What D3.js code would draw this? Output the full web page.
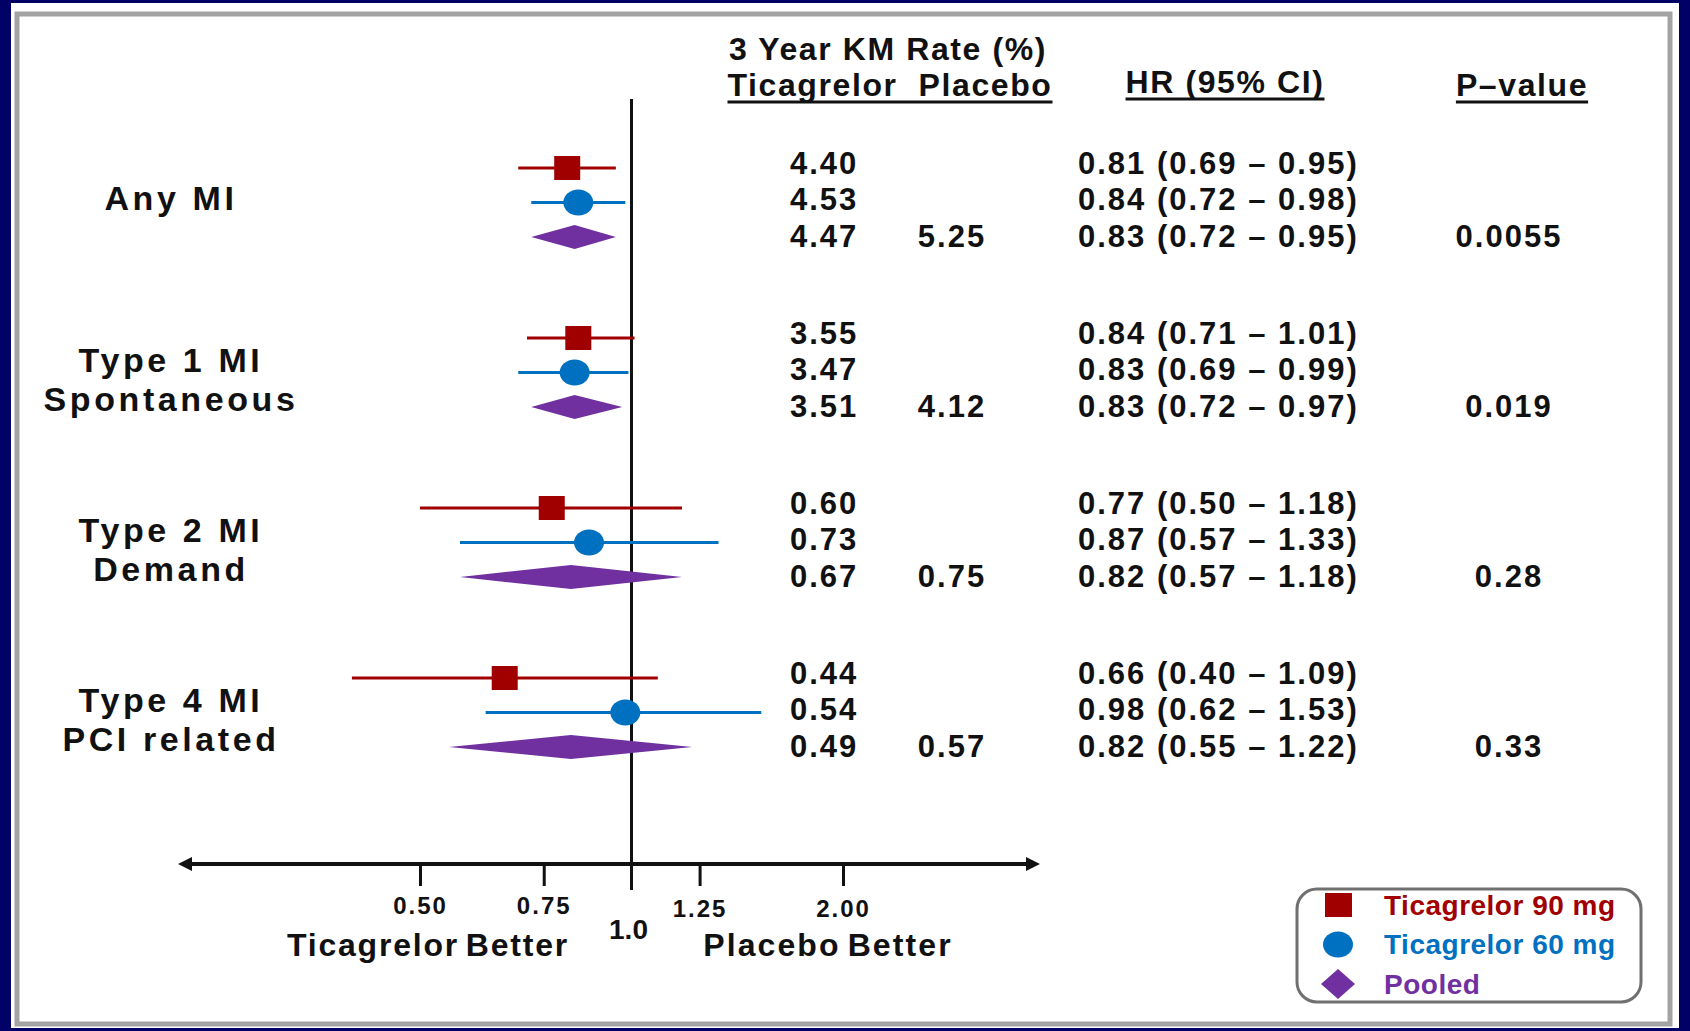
<!DOCTYPE html>
<html lang="en">
  <head>
    <meta charset="UTF-8" />
    <title>MI subtypes forest plot</title>
    <script src="https://d3js.org/d3.v7.min.js"></script>
    <style>
      body {
        margin: 0;
        padding: 0;
        background: #000066;
        font-family: "Liberation Sans", Arial, sans-serif;
      }
      svg text {
        font-weight: bold;
        fill: #111;
        white-space: pre;
      }
    </style>
  </head>
  <body>
    <div id="chart"></div>
    <script>
      const groupLabels = [
        ["Any MI"],
        ["Type 1 MI", "Spontaneous"],
        ["Type 2 MI", "Demand"],
        ["Type 4 MI", "PCI related"],
      ];
      const arms = ["Ticagrelor 90 mg", "Ticagrelor 60 mg", "Pooled"];
      const armColors = ["#a00000", "#0070c0", "#7030a0"];

      const kmTicagrelor = [
        [4.4, 4.53, 4.47],
        [3.55, 3.47, 3.51],
        [0.6, 0.73, 0.67],
        [0.44, 0.54, 0.49],
      ];
      const kmPlacebo = [5.25, 4.12, 0.75, 0.57];
      const hr = [
        [0.81, 0.84, 0.83],
        [0.84, 0.83, 0.83],
        [0.77, 0.87, 0.82],
        [0.66, 0.98, 0.82],
      ];
      const ciLow = [
        [0.69, 0.72, 0.72],
        [0.71, 0.69, 0.72],
        [0.5, 0.57, 0.57],
        [0.4, 0.62, 0.55],
      ];
      const ciHigh = [
        [0.95, 0.98, 0.95],
        [1.01, 0.99, 0.97],
        [1.18, 1.33, 1.18],
        [1.09, 1.53, 1.22],
      ];
      const pValues = ["0.0055", "0.019", "0.28", "0.33"];
      const xTicks = [0.5, 0.75, 1.25, 2];
      const xTickLabels = ["0.50", "0.75", "1.25", "2.00"];

      const width = 1690;
      const height = 1031;

      const svg = d3
        .select("#chart")
        .append("svg")
        .attr("width", width)
        .attr("height", height);

      // slide background + frame
      svg
        .append("rect")
        .attr("x", 11)
        .attr("y", 3)
        .attr("width", 1668)
        .attr("height", 1025)
        .attr("fill", "#fff");
      svg
        .append("rect")
        .attr("x", 17)
        .attr("y", 14)
        .attr("width", 1653)
        .attr("height", 1010)
        .attr("fill", "none")
        .attr("stroke", "#a3a3a3")
        .attr("stroke-width", 5);

      // scales
      const x = d3.scaleLog().domain([0.5, 2]).range([420, 843]);
      const axisLeft = 178;
      const axisRight = 1040;
      const axisY = 864;

      const rowStep = 36.5;
      const groupGap = 170 / rowStep; // rows between group starts
      const rowPos = (g, r) => g * groupGap + r;
      const y = d3
        .scaleLinear()
        .domain([0, 1])
        .range([163, 163 + rowStep]);

      // reference line at 1.0
      svg
        .append("line")
        .attr("x1", x(1))
        .attr("x2", x(1))
        .attr("y1", 99)
        .attr("y2", 890)
        .attr("stroke", "#111")
        .attr("stroke-width", 3);

      // x axis
      const xAxisScale = x
        .copy()
        .domain([x.invert(axisLeft), x.invert(axisRight)])
        .range([axisLeft, axisRight]);

      const axisG = svg
        .append("g")
        .attr("transform", `translate(0, ${axisY})`)
        .call(
          d3
            .axisBottom(xAxisScale)
            .tickValues(xTicks)
            .tickSize(22)
            .tickSizeOuter(0)
            .tickPadding(11)
            .tickFormat((d, i) => xTickLabels[i])
        );
      axisG
        .select(".domain")
        .attr("stroke", "#111")
        .attr("stroke-width", 4)
        .attr("d", `M${axisLeft + 10},0H${axisRight - 10}`);
      axisG.selectAll(".tick line").attr("stroke", "#111").attr("stroke-width", 3);
      axisG
        .selectAll(".tick text")
        .attr("fill", "#111")
        .attr("dy", (d) => (d > 1 ? "0.83em" : "0.71em"))
        .style("font-size", "24px")
        .style("letter-spacing", "2px")
        .style("font-family", "'Liberation Sans', Arial, sans-serif");

      // arrow heads
      svg
        .append("path")
        .attr(
          "d",
          `M${axisLeft},${axisY} L${axisLeft + 14},${axisY - 7} L${axisLeft + 14},${axisY + 7} Z`
        )
        .attr("fill", "#111");
      svg
        .append("path")
        .attr(
          "d",
          `M${axisRight},${axisY} L${axisRight - 14},${axisY - 7} L${axisRight - 14},${axisY + 7} Z`
        )
        .attr("fill", "#111");

      svg
        .append("text")
        .attr("x", x(1) - 3)
        .attr("y", 939)
        .attr("text-anchor", "middle")
        .style("font-size", "28px")
        .text("1.0");

      svg
        .append("text")
        .attr("x", 428)
        .attr("y", 956)
        .attr("text-anchor", "middle")
        .style("font-size", "32px")
        .style("letter-spacing", "1.8px")
        .style("word-spacing", "-4px")
        .text("Ticagrelor Better");
      svg
        .append("text")
        .attr("x", 828)
        .attr("y", 956)
        .attr("text-anchor", "middle")
        .style("font-size", "32px")
        .style("letter-spacing", "2.1px")
        .style("word-spacing", "-4px")
        .text("Placebo Better");

      // column headers
      function header(txt, cx, baseline, underline) {
        const t = svg
          .append("text")
          .attr("x", cx)
          .attr("y", baseline)
          .attr("text-anchor", "middle")
          .style("font-size", "32px")
          .style("letter-spacing", "1.6px")
          .text(txt);
        if (underline) {
          const b = t.node().getBBox();
          svg
            .append("line")
            .attr("x1", b.x)
            .attr("x2", b.x + b.width)
            .attr("y1", baseline + 6)
            .attr("y2", baseline + 6)
            .attr("stroke", "#111")
            .attr("stroke-width", 3);
        }
      }
      header("3 Year KM Rate (%)", 888, 60, false);
      header("Ticagrelor  Placebo", 890, 96, true);
      header("HR (95% CI)", 1225, 93, true);
      header("P\u2013value", 1522, 96, true);

      // rows
      const rows = [];
      hr.forEach((g, gi) =>
        g.forEach((v, ai) =>
          rows.push({
            g: gi,
            a: ai,
            hr: v,
            lo: ciLow[gi][ai],
            hi: ciHigh[gi][ai],
            km: kmTicagrelor[gi][ai],
          })
        )
      );

      const numStyle = (sel) =>
        sel
          .attr("dominant-baseline", "central")
          .style("font-size", "31px")
          .style("letter-spacing", "2px");

      svg
        .selectAll("text.km")
        .data(rows)
        .enter()
        .append("text")
        .attr("class", "km")
        .attr("x", 790)
        .attr("y", (d) => y(rowPos(d.g, d.a)))
        .call(numStyle)
        .text((d) => d.km.toFixed(2));

      svg
        .selectAll("text.hr")
        .data(rows)
        .enter()
        .append("text")
        .attr("class", "hr")
        .attr("x", 1078)
        .attr("y", (d) => y(rowPos(d.g, d.a)))
        .call(numStyle)
        .text(
          (d) =>
            `${d.hr.toFixed(2)} (${d.lo.toFixed(2)} \u2013 ${d.hi.toFixed(2)})`
        );

      svg
        .selectAll("text.placebo")
        .data(kmPlacebo)
        .enter()
        .append("text")
        .attr("class", "placebo")
        .attr("x", 952)
        .attr("text-anchor", "middle")
        .attr("y", (d, i) => y(rowPos(i, 2)))
        .call(numStyle)
        .text((d) => d.toFixed(2));

      svg
        .selectAll("text.pval")
        .data(pValues)
        .enter()
        .append("text")
        .attr("class", "pval")
        .attr("x", 1509)
        .attr("text-anchor", "middle")
        .attr("y", (d, i) => y(rowPos(i, 2)))
        .call(numStyle)
        .text((d) => d);

      // group labels
      groupLabels.forEach((lines, gi) => {
        const cy = y(rowPos(gi, 1)) + (lines.length > 1 ? 10 : -2);
        lines.forEach((ln, li) => {
          svg
            .append("text")
            .attr("x", 171)
            .attr("y", cy + (li - (lines.length - 1) / 2) * 39.5)
            .attr("text-anchor", "middle")
            .attr("dominant-baseline", "central")
            .style("font-size", "34px")
            .style("letter-spacing", "3.6px")
            .text(ln);
        });
      });

      // markers: slightly tighter spacing than the text rows
      const markStep = 34.5;
      const markY = (d) => y(rowPos(d.g, 1)) + 3 + (d.a - 1) * markStep;
      const marks = svg.append("g");

      marks
        .selectAll("line.ci")
        .data(rows.filter((d) => d.a < 2))
        .enter()
        .append("line")
        .attr("class", "ci")
        .attr("x1", (d) => x(d.lo))
        .attr("x2", (d) => x(d.hi))
        .attr("y1", markY)
        .attr("y2", markY)
        .attr("stroke", (d) => armColors[d.a])
        .attr("stroke-width", 3);

      marks
        .selectAll("rect.sq")
        .data(rows.filter((d) => d.a === 0))
        .enter()
        .append("rect")
        .attr("class", "sq")
        .attr("x", (d) => x(d.hr) - 13)
        .attr("y", (d) => markY(d) - 12)
        .attr("width", 26)
        .attr("height", 24)
        .attr("fill", armColors[0]);

      marks
        .selectAll("ellipse.dot")
        .data(rows.filter((d) => d.a === 1))
        .enter()
        .append("ellipse")
        .attr("class", "dot")
        .attr("cx", (d) => x(d.hr))
        .attr("cy", markY)
        .attr("rx", 15)
        .attr("ry", 13)
        .attr("fill", armColors[1]);

      marks
        .selectAll("path.dia")
        .data(rows.filter((d) => d.a === 2))
        .enter()
        .append("path")
        .attr("class", "dia")
        .attr("d", (d) => {
          const cy = markY(d);
          return `M${x(d.lo)},${cy} L${x(d.hr)},${cy - 12} L${x(d.hi)},${cy} L${x(d.hr)},${cy + 12} Z`;
        })
        .attr("fill", armColors[2]);

      // legend
      const legend = svg.append("g").attr("transform", "translate(1297, 889)");
      legend
        .append("rect")
        .attr("width", 344)
        .attr("height", 113)
        .attr("rx", 20)
        .attr("fill", "#fff")
        .attr("stroke", "#707070")
        .attr("stroke-width", 3);

      const legendY = d3.scalePoint().domain(arms).range([16, 95]);
      const item = legend
        .selectAll("g.item")
        .data(arms)
        .enter()
        .append("g")
        .attr("class", "item")
        .attr("transform", (d) => `translate(0, ${legendY(d)})`);

      item
        .filter((d, i) => i === 0)
        .append("rect")
        .attr("x", 28)
        .attr("y", -12)
        .attr("width", 27)
        .attr("height", 24)
        .attr("fill", armColors[0]);
      item
        .filter((d, i) => i === 1)
        .append("ellipse")
        .attr("cx", 41)
        .attr("rx", 15)
        .attr("ry", 13)
        .attr("fill", armColors[1]);
      item
        .filter((d, i) => i === 2)
        .append("path")
        .attr("d", "M24,0 L41,-15 L58,0 L41,15 Z")
        .attr("fill", armColors[2]);

      item
        .append("text")
        .attr("x", 87)
        .attr("dominant-baseline", "central")
        .style("font-size", "28px")
        .style("letter-spacing", "0.5px")
        .style("fill", (d, i) => armColors[i])
        .text((d) => d);
    </script>
  </body>
</html>
